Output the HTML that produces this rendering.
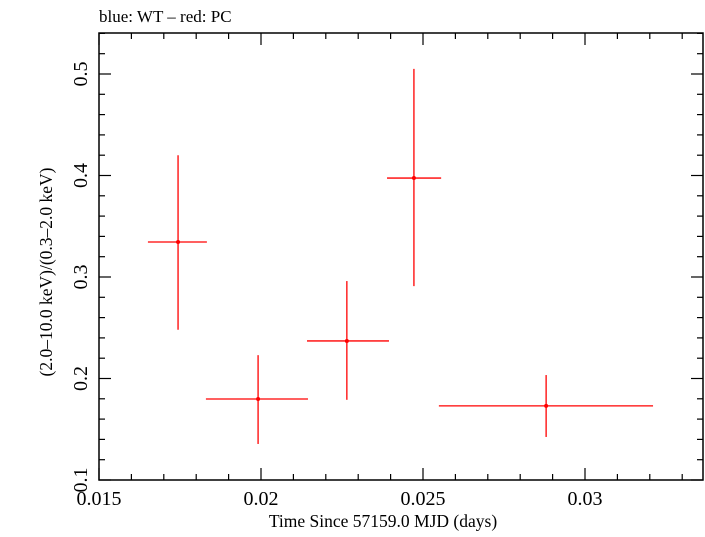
<!DOCTYPE html>
<html><head><meta charset="utf-8"><style>
body{margin:0;background:#fff}
svg text{font-family:"Liberation Serif",serif;fill:#000}
</style></head><body>
<svg width="705" height="532" id="chart">
<text x="99" y="22" font-size="17">blue: WT – red: PC</text>
<rect x="99" y="33" width="604" height="447" fill="none" stroke="#000" stroke-width="1.5"/>
<g id="ticks"></g>
<g id="marks"></g>
<text x="383" y="527" font-size="17.5" text-anchor="middle">Time Since 57159.0 MJD (days)</text>
<text transform="translate(52,272) rotate(-90)" font-size="17.5" text-anchor="middle">(2.0–10.0 keV)/(0.3–2.0 keV)</text>
</svg>
<script>
const xVals=[0.01744,0.01991,0.02265,0.02472,0.02880];
const xLo=[0.01651,0.01830,0.02142,0.02389,0.02549];
const xHi=[0.01833,0.02145,0.02395,0.02556,0.03210];
const yVals=[0.3345,0.1798,0.237,0.3975,0.173];
const yLo=[0.248,0.1355,0.179,0.291,0.1424];
const yHi=[0.420,0.223,0.296,0.505,0.2034];
const xTicks=[0.015,0.02,0.025,0.03];
const xTickLabels=["0.015","0.02","0.025","0.03"];
const yTicks=[0.1,0.2,0.3,0.4,0.5];
const yTickLabels=["0.1","0.2","0.3","0.4","0.5"];
const L=99,R=703,T=33,B=480;
const X=v=>L+(v-0.015)*32400;
const Y=v=>B-(v-0.1)*1015;
const NS="http://www.w3.org/2000/svg";
function mk(tag,attrs,parent){const e=document.createElementNS(NS,tag);for(const k in attrs)e.setAttribute(k,attrs[k]);parent.appendChild(e);return e;}
const tk=document.getElementById('ticks');
for(let i=15;i<=33;i++){const v=i/1000,x=X(v),maj=i%5===0,len=maj?12:6;
 let l=mk('line',{x1:x,x2:x,y1:B,y2:B-len,stroke:'#000','stroke-width':1.2},tk);
 
 l=mk('line',{x1:x,x2:x,y1:T,y2:T+len,stroke:'#000','stroke-width':1.2},tk);
 }
for(let i=10;i<=54;i+=2){const v=i/100,y=Y(v),maj=i%10===0,len=maj?12:6;
 let l=mk('line',{x1:L,x2:L+len,y1:y,y2:y,stroke:'#000','stroke-width':1.2},tk);
 
 l=mk('line',{x1:R,x2:R-len,y1:y,y2:y,stroke:'#000','stroke-width':1.2},tk);
 }
xTicks.forEach((v,i)=>{const t=mk('text',{x:X(v),y:505,'font-size':20,'text-anchor':'middle'},tk);t.textContent=xTickLabels[i];
 });
yTicks.forEach((v,i)=>{const t=mk('text',{transform:`translate(87,${Y(v)}) rotate(-90)`,'font-size':20,'text-anchor':'middle'},tk);t.textContent=yTickLabels[i];
 });
const mg=document.getElementById('marks');
xVals.forEach((v,i)=>{
 let h=mk('line',{x1:X(xLo[i]),x2:X(xHi[i]),y1:Y(yVals[i]),y2:Y(yVals[i]),stroke:'#f00','stroke-width':1.3},mg);
 
 let vl=mk('line',{x1:X(v),x2:X(v),y1:Y(yLo[i]),y2:Y(yHi[i]),stroke:'#f00','stroke-width':1.3},mg);
 
 let c=mk('circle',{cx:X(v),cy:Y(yVals[i]),r:2,fill:'#f00'},mg);
 
});
</script>
</body></html>
